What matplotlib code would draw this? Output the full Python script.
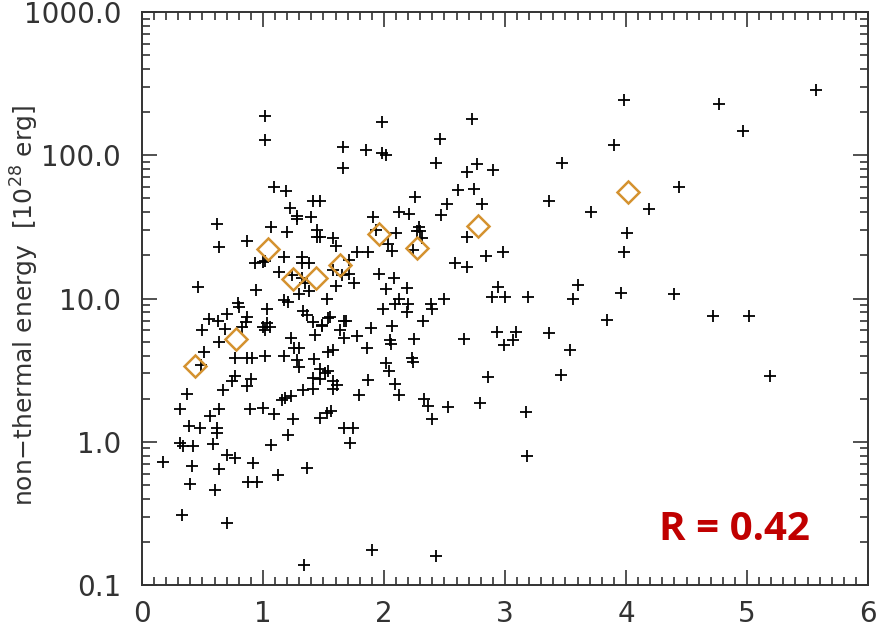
import matplotlib
matplotlib.use("Agg")
import matplotlib.pyplot as plt
from matplotlib.ticker import FixedLocator, LogLocator, MultipleLocator, NullFormatter

# ---- data ----
x_pts = [1.02, 1.02, 1.98, 2.73, 3.98, 4.77, 4.97, 5.57, 1.66, 1.85,
         1.98, 2.02, 1.66, 2.46, 2.43, 2.77, 2.69, 2.90, 3.90, 3.47,
         4.44, 3.36, 3.71, 4.19, 4.01, 3.98, 2.98, 1.09, 1.19, 1.22,
         1.28, 1.28, 1.41, 1.47, 1.40, 0.62, 0.64, 1.07, 1.20, 1.45,
         1.45, 1.47, 0.87, 1.17, 1.32, 0.93, 1.00, 1.02, 1.32, 1.38,
         2.61, 2.74, 2.81, 2.52, 2.26, 2.47, 2.69, 2.12, 2.21, 1.91,
         1.93, 2.10, 2.29, 2.30, 2.27, 2.31, 2.24, 2.03, 2.07, 2.84,
         2.59, 2.69, 1.78, 1.87, 1.71, 1.58, 1.60, 0.46, 0.94, 1.13,
         1.24, 1.32, 1.35, 1.30, 1.38, 1.53, 1.17, 1.21, 0.79, 0.80,
         1.03, 1.33, 1.36, 1.41, 1.49, 1.43, 1.54, 0.55, 0.63, 0.70,
         0.87, 0.86, 0.83, 1.03, 1.00, 1.06, 1.02, 0.50, 0.69, 0.64,
         1.23, 1.26, 1.30, 0.51, 0.77, 0.87, 0.91, 1.02, 1.17, 1.28,
         1.30, 1.42, 1.47, 1.51, 0.49, 0.77, 0.74, 0.90, 0.87, 0.67,
         1.41, 1.47, 1.41, 1.33, 1.23, 1.16, 1.18, 0.37, 0.31, 0.64,
         0.56, 0.89, 1.00, 1.09, 1.25, 1.47, 1.53, 0.39, 0.48, 0.62,
         0.62, 0.31, 0.34, 0.42, 0.59, 0.17, 0.41, 0.70, 0.77, 0.64,
         0.92, 1.07, 1.21, 1.12, 1.36, 0.40, 0.60, 0.88, 0.95, 0.33,
         0.70, 1.34, 1.96, 2.08, 2.02, 2.19, 2.12, 2.09, 2.20, 2.19,
         2.39, 2.40, 2.50, 1.99, 2.32, 2.94, 2.89, 3.00, 2.07, 1.89,
         2.25, 2.05, 2.06, 2.66, 2.93, 2.99, 1.86, 1.78, 1.67, 1.55,
         1.67, 1.69, 1.64, 1.49, 1.60, 1.75, 1.58, 1.65, 1.71, 1.58,
         1.54, 2.23, 2.24, 2.02, 2.04, 1.87, 2.09, 2.12, 1.54, 1.58,
         1.61, 1.58, 1.79, 1.56, 1.67, 1.74, 2.33, 2.36, 2.40, 2.53,
         2.79, 2.86, 1.72, 1.90, 2.43, 3.60, 3.96, 4.40, 3.56, 3.19,
         3.84, 3.09, 3.07, 3.36, 3.54, 3.46, 3.17, 3.18, 4.72, 5.02,
         5.19]
y_pts = [187, 127, 170, 178, 243, 227, 147, 285, 114, 108,
         103, 101, 81, 129, 88, 86.5, 76, 78.5, 117, 88,
         60.5, 47.7, 40, 42, 28.5, 21, 21, 60, 56, 43,
         37.4, 36, 48, 48, 36.8, 32.9, 22.7, 31.4, 29, 29.9,
         26.7, 26.7, 25, 19.4, 19.4, 17.6, 17.9, 18.4, 17.8, 17.6,
         57, 57.8, 46, 46, 50.9, 38, 26.7, 40, 39, 36.8,
         29.9, 28.5, 31.4, 29.4, 29.4, 26.3, 21.7, 24.2, 21.3, 19.7,
         17.6, 16.5, 21, 21, 18.7, 26.3, 23.4, 12.1, 11.4, 15.2,
         14.5, 13.8, 12.8, 10.7, 11.2, 10.0, 9.8, 9.5, 9.35, 8.66,
         8.4, 8.2, 7.7, 6.8, 6.5, 5.6, 7.3, 7.2, 7.0, 7.8,
         7.4, 6.8, 6.3, 6.7, 6.3, 6.3, 6.0, 6.0, 6.1, 5.0,
         5.3, 4.5, 4.5, 4.2, 3.87, 3.87, 3.87, 4.0, 4.0, 3.74,
         3.3, 3.8, 3.24, 3.04, 3.45, 2.9, 2.67, 2.76, 2.46, 2.31,
         2.8, 2.76, 2.35, 2.31, 2.1, 1.97, 2.03, 2.17, 1.70, 1.70,
         1.52, 1.70, 1.73, 1.55, 1.45, 1.47, 1.6, 1.29, 1.25, 1.25,
         1.16, 0.98, 0.94, 0.94, 0.97, 0.72, 0.68, 0.81, 0.77, 0.65,
         0.71, 0.95, 1.12, 0.59, 0.66, 0.51, 0.46, 0.52, 0.52, 0.31,
         0.27, 0.138, 14.9, 14.0, 11.7, 11.9, 10.0, 9.2, 9.2, 8.1,
         9.1, 8.4, 10.0, 8.4, 7.0, 12.1, 10.3, 10.3, 6.4, 6.2,
         5.25, 5.1, 4.85, 5.25, 5.8, 4.77, 4.5, 5.5, 5.3, 7.4,
         7.0, 7.0, 6.0, 6.4, 12.3, 12.9, 15.7, 14.7, 14.9, 4.4,
         4.25, 3.87, 3.62, 3.57, 3.1, 2.71, 2.54, 2.13, 3.14, 2.67,
         2.5, 2.35, 2.13, 1.65, 1.25, 1.25, 2.0, 1.79, 1.43, 1.76,
         1.87, 2.84, 0.98, 0.176, 0.16, 12.5, 11.0, 10.8, 9.85, 10.3,
         7.1, 5.8, 5.1, 5.7, 4.4, 2.94, 1.62, 0.79, 7.5, 7.5,
         2.9]

# binned means (orange diamonds)
x_bin = [0.44, 0.78, 1.04, 1.25, 1.44, 1.64, 1.96, 2.27, 2.78, 4.02]
y_bin = [3.4, 5.25, 22.0, 13.6, 13.8, 17.0, 28.0, 22.4, 31.9, 55.0]

y_tick_vals = [0.1, 1.0, 10.0, 100.0, 1000.0]
y_tick_labels = ["0.1", "1.0", "10.0", "100.0", "1000.0"]
x_tick_vals = [0, 1, 2, 3, 4, 5, 6]
x_tick_labels = ["0", "1", "2", "3", "4", "5", "6"]

y_label = "non\u2212thermal energy  [10$^{28}$ erg]"
r_text = "R = 0.42"

# ---- figure ----
fig = plt.figure(figsize=(8.79, 6.28), dpi=100)
ax = fig.add_axes([142 / 879, 43 / 628, 726 / 879, 573 / 628])

ax.plot(x_pts, y_pts, linestyle="none", marker="+", color="black",
        markersize=8.5, markeredgewidth=1.3)
ax.plot(x_bin, y_bin, linestyle="none", marker="D", markerfacecolor="none",
        markeredgecolor="#D4922F", markersize=11, markeredgewidth=1.8)

ax.set_yscale("log")
ax.set_xlim(0, 6)
ax.set_ylim(0.1, 1000)

ax.yaxis.set_major_locator(FixedLocator(y_tick_vals))
ax.set_yticklabels(y_tick_labels)
ax.yaxis.set_minor_locator(LogLocator(base=10, subs=range(2, 10)))
ax.yaxis.set_minor_formatter(NullFormatter())
ax.set_xticks(x_tick_vals)
ax.set_xticklabels(x_tick_labels)
ax.xaxis.set_minor_locator(MultipleLocator(0.1))

ax.tick_params(which="both", direction="in", top=True, right=True,
               color="#333333", width=1.2)
ax.tick_params(which="major", length=11, labelsize=20, labelcolor="#333333")
ax.tick_params(which="minor", length=6)
ax.tick_params(axis="y", which="major", pad=15)
ax.tick_params(axis="x", which="major", pad=11)
for s in ax.spines.values():
    s.set_linewidth(1.4)
    s.set_color("#333333")

fig.text(25 / 879, 1 - 305 / 628, y_label, rotation=90, ha="center",
         va="center", fontsize=18, color="#333333")

ax.text(0.92, 0.096, r_text, transform=ax.transAxes, ha="right", va="center",
        fontsize=29, fontweight="bold", color="#C00000", family="Open Sans")

fig.savefig("out.png", dpi=100)
